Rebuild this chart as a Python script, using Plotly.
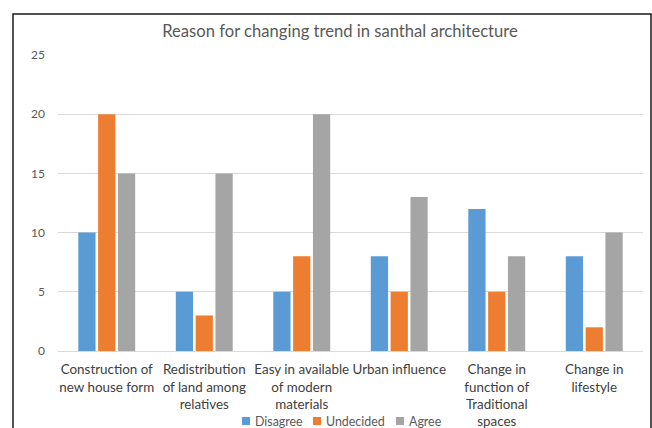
import plotly.graph_objects as go

categories = [
    "Construction of<br>new house form",
    "Redistribution<br>of land among<br>relatives",
    "Easy in available<br>of modern<br>materials",
    "Urban influence",
    "Change in<br>function of<br>Traditional<br>spaces",
    "Change in<br>lifestyle",
]
disagree = [10, 5, 5, 8, 12, 8]
undecided = [20, 3, 8, 5, 5, 2]
agree = [15, 15, 20, 13, 8, 10]

series = [
    ("Disagree", disagree, "#5B9BD5"),
    ("Undecided", undecided, "#ED7D31"),
    ("Agree", agree, "#A5A5A5"),
]

FONT = "Lato"
fig = go.Figure()
for name, vals, col in series:
    fig.add_trace(go.Bar(x=categories, y=vals, name=name, marker_color=col,
                         marker_line_width=0, showlegend=False))

L, R, T, B = 58, 9, 55, 77
W, H = 652, 428
pw, ph = W - L - R, H - T - B


def px(x):
    return (x - L) / pw


def py(y):
    return (H - B - y) / ph


fig.update_layout(
    width=W, height=H,
    margin=dict(l=L, r=R, t=T, b=B, autoexpand=False),
    paper_bgcolor="white", plot_bgcolor="white",
    barmode="group", bargap=0.39, bargroupgap=0.13,
    font=dict(family=FONT, size=13, color="#404040"),
    title=dict(text="Reason for changing trend in santhal architecture",
               x=340 / W, xref="container", xanchor="center",
               y=1 - 31 / H, yref="container", yanchor="middle",
               font=dict(family=FONT, size=16.6, color="#595959")),
    showlegend=False,
    xaxis=dict(showgrid=False, showline=True, linecolor="#D9D9D9", linewidth=1,
               ticks="", automargin=False, ticklabelstandoff=6,
               tickfont=dict(family=FONT, size=13.4, color="#404040")),
    yaxis=dict(range=[0, 25], dtick=5, showgrid=True, gridcolor="#D9D9D9",
               gridwidth=1, zeroline=False, showline=False, ticks="",
               automargin=False, ticklabelstandoff=12,
               tickfont=dict(family=FONT, size=12, color="#595959")),
)

# manual legend (Excel style small squares)
legend_pos = [(242, 253), (313, 324), (396, 407)]
for (name, _, col), (sx, tx) in zip(series, legend_pos):
    fig.add_shape(type="rect", xref="paper", yref="paper",
                  x0=px(sx), x1=px(sx + 8), y0=py(425), y1=py(417),
                  fillcolor=col, line=dict(width=0))
    fig.add_annotation(text=name, xref="paper", yref="paper",
                       x=px(tx), y=py(421), xanchor="left", yanchor="middle",
                       showarrow=False,
                       font=dict(family=FONT, size=12.4, color="#595959"))

# chart border (outer frame, cropped at bottom)
fig.add_shape(type="rect", xref="paper", yref="paper",
              x0=px(13), x1=px(651), y0=py(H + 20), y1=py(14),
              line=dict(color="#1a1a1a", width=1.5), fillcolor="rgba(0,0,0,0)",
              layer="above")

fig.write_html("out.html")
